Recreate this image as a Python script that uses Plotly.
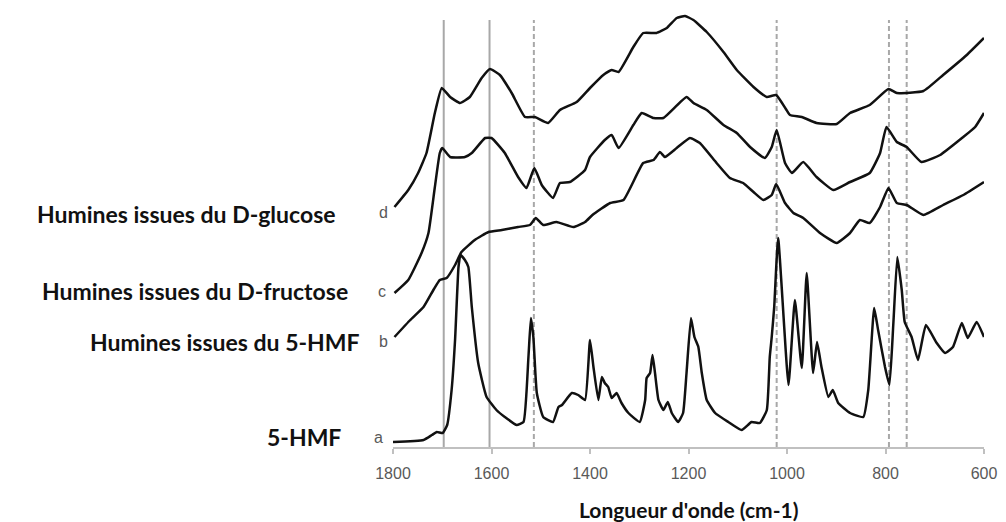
import plotly.graph_objects as go

# IR spectra (wavenumber in cm-1, absorbance in arbitrary units, offset per sample)
wn_a = [1800, 1738, 1721, 1711, 1699, 1690, 1681, 1674, 1667, 1663, 1654, 1647, 1640, 1627,
        1610, 1590, 1573, 1549, 1535, 1525, 1520, 1515, 1508, 1495, 1475, 1464, 1457, 1437,
        1424, 1410, 1400, 1393, 1383, 1376, 1370, 1363, 1356, 1346, 1336, 1322, 1299, 1288,
        1285, 1278, 1273, 1268, 1261, 1251, 1242, 1234, 1221, 1211, 1204, 1195, 1188, 1180,
        1173, 1163, 1146, 1119, 1092, 1072, 1055, 1041, 1035, 1031, 1026, 1018, 997, 984,
        970, 960, 947, 939, 930, 916, 907, 896, 872, 845, 835, 823, 815, 801, 792, 784, 776,
        767, 761, 747, 734, 718, 696, 679, 663, 645, 633, 615, 600]
abs_a = [0.05, 0.07, 0.12, 0.15, 0.14, 0.22, 0.57, 1.07, 1.80, 1.92, 1.87, 1.80, 1.40, 0.84,
         0.50, 0.37, 0.30, 0.22, 0.25, 0.90, 1.29, 1.10, 0.54, 0.30, 0.25, 0.40, 0.42, 0.54,
         0.52, 0.47, 1.07, 0.80, 0.47, 0.70, 0.64, 0.60, 0.49, 0.54, 0.44, 0.34, 0.25, 0.47,
         0.69, 0.74, 0.92, 0.74, 0.47, 0.37, 0.45, 0.34, 0.25, 0.34, 0.74, 1.29, 1.10, 1.00,
         0.74, 0.47, 0.34, 0.25, 0.17, 0.25, 0.24, 0.37, 0.90, 1.10, 1.40, 2.09, 0.62, 1.47,
         0.79, 1.74, 0.74, 1.05, 0.80, 0.50, 0.57, 0.44, 0.34, 0.30, 0.57, 1.39, 1.17, 0.80,
         0.62, 1.24, 1.90, 1.57, 1.25, 1.10, 0.87, 1.22, 1.04, 0.94, 1.00, 1.24, 1.09, 1.25,
         1.10]

wn_b = [1797, 1765, 1738, 1718, 1705, 1691, 1674, 1661, 1634, 1606, 1579, 1546, 1522, 1510,
        1495, 1468, 1434, 1410, 1395, 1359, 1332, 1292, 1271, 1258, 1248, 1224, 1197, 1177,
        1143, 1116, 1089, 1068, 1048, 1031, 1022, 1004, 987, 967, 933, 899, 872, 852, 832,
        811, 794, 777, 757, 723, 683, 642, 600]
abs_b = [1.10, 1.27, 1.40, 1.57, 1.67, 1.69, 1.82, 1.95, 2.07, 2.15, 2.17, 2.20, 2.22, 2.29,
         2.22, 2.25, 2.20, 2.25, 2.32, 2.44, 2.47, 2.84, 2.87, 2.95, 2.90, 2.99, 3.09, 3.04,
         2.84, 2.69, 2.64, 2.55, 2.47, 2.52, 2.63, 2.44, 2.34, 2.29, 2.14, 2.04, 2.14, 2.27,
         2.24, 2.40, 2.59, 2.44, 2.42, 2.32, 2.42, 2.52, 2.65]

wn_c = [1797, 1769, 1742, 1728, 1715, 1705, 1700, 1684, 1654, 1640, 1613, 1600, 1573, 1546,
        1529, 1513, 1498, 1475, 1461, 1441, 1410, 1400, 1370, 1356, 1342, 1312, 1295, 1271,
        1251, 1204, 1190, 1163, 1129, 1102, 1075, 1045, 1031, 1021, 1004, 990, 967, 940, 906,
        872, 832, 811, 798, 777, 757, 727, 689, 642, 618, 600]
abs_c = [1.54, 1.67, 1.94, 2.14, 2.60, 2.94, 2.99, 2.90, 2.90, 2.94, 3.09, 3.09, 2.94, 2.70,
         2.59, 2.79, 2.62, 2.49, 2.64, 2.65, 2.77, 2.90, 3.07, 3.12, 2.99, 3.22, 3.34, 3.29,
         3.29, 3.50, 3.44, 3.37, 3.22, 3.14, 3.00, 2.89, 3.00, 3.17, 2.84, 2.74, 2.85, 2.70,
         2.57, 2.65, 2.74, 2.94, 3.20, 3.05, 3.00, 2.85, 2.92, 3.10, 3.20, 3.34]

wn_d = [1797, 1769, 1749, 1732, 1715, 1701, 1684, 1664, 1644, 1620, 1603, 1583, 1559, 1532,
        1512, 1485, 1461, 1427, 1400, 1373, 1356, 1342, 1312, 1292, 1265, 1244, 1224, 1207,
        1190, 1163, 1129, 1102, 1068, 1041, 1022, 1001, 994, 970, 940, 899, 872, 832, 794,
        777, 723, 683, 635, 600]
abs_d = [2.40, 2.57, 2.74, 2.94, 3.34, 3.59, 3.50, 3.44, 3.50, 3.69, 3.78, 3.72, 3.54, 3.30,
         3.30, 3.24, 3.37, 3.45, 3.59, 3.72, 3.77, 3.75, 4.00, 4.14, 4.14, 4.19, 4.29, 4.31,
         4.27, 4.15, 3.95, 3.77, 3.60, 3.50, 3.52, 3.37, 3.32, 3.30, 3.24, 3.23, 3.34, 3.42,
         3.58, 3.54, 3.56, 3.72, 3.92, 4.09]

# reference bands
solid_bands = [1697, 1604]
dashed_bands = [1514, 1021, 793, 757]
band_top = 4.27

sample_names = ["5-HMF", "Humines issues du 5-HMF", "Humines issues du D-fructose",
                "Humines issues du D-glucose"]
sample_letters = ["a", "b", "c", "d"]
x_ticks = [1800, 1600, 1400, 1200, 1000, 800, 600]

W, H = 1006, 522
ML, MR, MT, MB = 393, 22, 10, 75
PW, PH = W - ML - MR, H - MT - MB


def px_to_paper(px, py):
    return (px - ML) / PW, (H - MB - py) / PH


fig = go.Figure()

for xb in solid_bands:
    fig.add_shape(type="line", x0=xb, x1=xb, y0=0, y1=band_top, xref="x", yref="y",
                  line=dict(color="#a8a8a8", width=2), layer="below")
for xb in dashed_bands:
    fig.add_shape(type="line", x0=xb, x1=xb, y0=0, y1=band_top, xref="x", yref="y",
                  line=dict(color="#a8a8a8", width=2, dash="5px,3px"), layer="below")

for name, xs, ys in zip(sample_names, [wn_a, wn_b, wn_c, wn_d], [abs_a, abs_b, abs_c, abs_d]):
    fig.add_trace(go.Scatter(x=xs, y=ys, mode="lines", name=name,
                             line=dict(color="#111111", width=2.5, shape="spline", smoothing=0.4),
                             showlegend=False))

# sample labels on the left
label_pos = [(343, 437), (362, 342), (350, 291), (338, 214)]
letter_pos = [(378, 437), (383, 341), (382, 292), (383, 213)]
for name, letter, (lx, ly), (cx, cy) in zip(sample_names, sample_letters, label_pos, letter_pos):
    x0, y0 = px_to_paper(lx, ly)
    fig.add_annotation(x=x0, y=y0, xref="paper", yref="paper", text=f"<b>{name}</b>",
                       showarrow=False, xanchor="right", yanchor="middle",
                       font=dict(family="Lato", size=23, color="#111111"))
    x1, y1 = px_to_paper(cx, cy)
    fig.add_annotation(x=x1, y=y1, xref="paper", yref="paper", text=letter,
                       showarrow=False, xanchor="center", yanchor="middle",
                       font=dict(family="Liberation Sans", size=16, color="#595959"))

tx, ty = px_to_paper(688, 509)
fig.add_annotation(x=tx, y=ty, xref="paper", yref="paper",
                   text="<b>Longueur d'onde (cm-1)</b>", showarrow=False,
                   xanchor="center", yanchor="middle",
                   font=dict(family="Lato", size=21, color="#111111"))

fig.update_layout(
    width=W, height=H,
    margin=dict(l=ML, r=MR, t=MT, b=MB),
    paper_bgcolor="white", plot_bgcolor="white",
    xaxis=dict(range=[1800, 600], tickvals=x_ticks, showgrid=False, zeroline=False,
               showline=True, linecolor="#c0c0c0", linewidth=1.5,
               ticks="outside", ticklen=5, tickcolor="#c0c0c0", tickwidth=1.5,
               ticklabelstandoff=6,
               tickfont=dict(family="Liberation Sans", size=16, color="#595959")),
    yaxis=dict(range=[0, PH / 100], visible=False),
)

fig.write_html("out.html")
